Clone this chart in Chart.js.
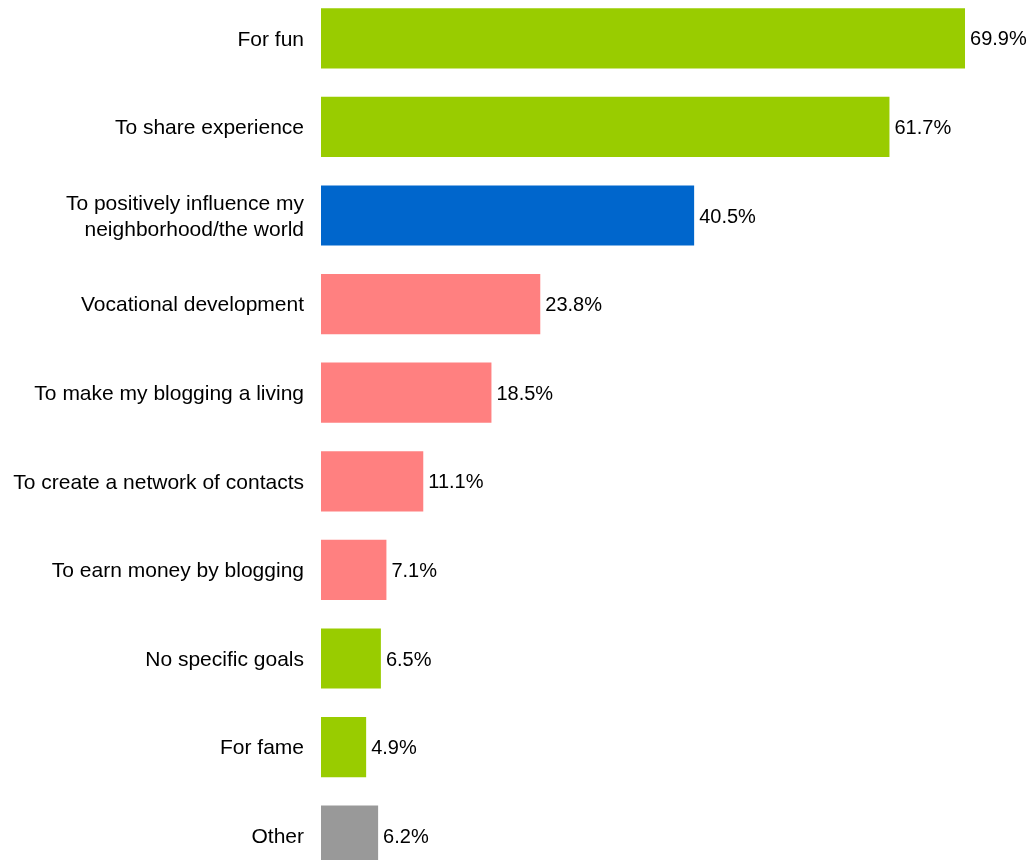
<!DOCTYPE html>
<html>
<head>
<meta charset="utf-8">
<title>Reasons for blogging</title>
<script src="https://cdn.jsdelivr.net/npm/chart.js@4/dist/chart.umd.min.js"></script>
<style>
    html, body { margin: 0; padding: 0; background: #fff; overflow: hidden; }
    #wrap { position: absolute; left: 0; top: -6px; width: 1029px; height: 886px; }
</style>
</head>
<body>
<div id="wrap"><canvas id="goalsChart"></canvas></div>
<script>
// Survey answers, one bar per reason
const reasons = [
    'For fun',
    'To share experience',
    ['To positively influence my', 'neighborhood/the world'],
    'Vocational development',
    'To make my blogging a living',
    'To create a network of contacts',
    'To earn money by blogging',
    'No specific goals',
    'For fame',
    'Other'
];
const shares = [69.9, 61.7, 40.5, 23.8, 18.5, 11.1, 7.1, 6.5, 4.9, 6.2];
const groups = ['fun', 'fun', 'world', 'work', 'work', 'work', 'work', 'fun', 'fun', 'other'];

function getGroupColor(group) {
    const colors = {
        fun: '#99CC00',
        world: '#0066CC',
        work: '#FF8080',
        other: '#999999'
    };
    return colors[group];
}

const FONT = '"Liberation Sans", Arial, sans-serif';

// Writes the percentage just past the end of each bar
const valueLabels = {
    id: 'valueLabels',
    afterDatasetsDraw(chart) {
        const ctx = chart.ctx;
        const meta = chart.getDatasetMeta(0);
        ctx.save();
        ctx.font = '20px ' + FONT;
        ctx.fillStyle = '#000';
        ctx.textAlign = 'left';
        ctx.textBaseline = 'middle';
        meta.data.forEach((bar, i) => {
            ctx.fillText(shares[i].toFixed(1) + '%', bar.x + 5, bar.y + 1.5);
        });
        ctx.restore();
    }
};

new Chart(document.getElementById('goalsChart'), {
    type: 'bar',
    data: {
        labels: reasons,
        datasets: [{
            data: shares,
            backgroundColor: groups.map(g => getGroupColor(g)),
            borderWidth: 0,
            categoryPercentage: 1,
            barPercentage: 0.68
        }]
    },
    options: {
        indexAxis: 'y',
        responsive: true,
        maintainAspectRatio: false,
        animation: false,
        layout: { padding: { left: 0, right: 17, top: 0, bottom: 0 } },
        plugins: {
            legend: { display: false },
            tooltip: { enabled: false }
        },
        scales: {
            x: {
                display: false,
                min: 0,
                max: 75
            },
            y: {
                // fixed label column, and no extra room above/below the bars
                afterFit(scale) {
                    scale.width = 321;
                    scale.paddingTop = 0;
                    scale.paddingBottom = 0;
                },
                grid: { display: false },
                border: { display: false },
                ticks: {
                    color: '#000',
                    padding: 9,
                    labelOffset: 1.5,
                    font: { family: FONT, size: 21, lineHeight: 1.24 }
                }
            }
        }
    },
    plugins: [valueLabels]
});
</script>
</body>
</html>
